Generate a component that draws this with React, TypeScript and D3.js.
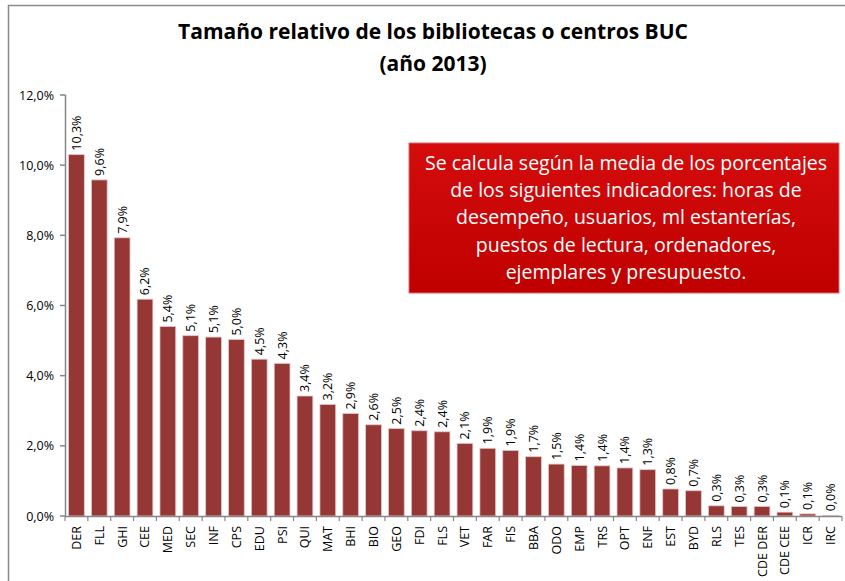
import React from "react";
import * as d3 from "d3";

const categories = ["DER","FLL","GHI","CEE","MED","SEC","INF","CPS","EDU","PSI","QUI","MAT","BHI","BIO","GEO","FDI","FLS","VET","FAR","FIS","BBA","ODO","EMP","TRS","OPT","ENF","EST","BYD","RLS","TES","CDE DER","CDE CEE","ICR","IRC"];
const values = [10.3,9.58,7.93,6.18,5.40,5.14,5.10,5.03,4.47,4.35,3.42,3.18,2.92,2.60,2.49,2.43,2.40,2.07,1.93,1.87,1.69,1.48,1.44,1.43,1.37,1.32,0.77,0.72,0.29,0.27,0.27,0.11,0.06,0.02];
const yTicks = [0,2,4,6,8,10,12];
const titleLines = ["Tamaño relativo de los bibliotecas o centros BUC","(año 2013)"];
const noteLines = ["Se calcula según la media de los porcentajes","de los siguientes indicadores: horas de","desempeño, usuarios, ml estanterías,","puestos de lectura, ordenadores,","ejemplares y presupuesto."];

const W = 845, H = 581;
const FONT = "'Open Sans', sans-serif";
const fmt = (v: number) => v.toFixed(1).replace(".", ",") + "%";

export default function App() {
  const x = d3.scaleBand<string>().domain(categories).range([65, 842]).paddingInner(0.31).paddingOuter(0.155);
  const y = d3.scaleLinear().domain([0, 12]).range([516, 95]);
  const bandStep = x.step();
  return (
    <svg width={W} height={H} style={{ position: "absolute", left: 0, top: 0, fontFamily: FONT }}>
      <defs>
        <linearGradient id="boxg" x1="0" y1="0" x2="0" y2="1">
          <stop offset="0" stopColor="#d40c0c" />
          <stop offset="1" stopColor="#c00000" />
        </linearGradient>
      </defs>
      <rect x={0} y={0} width={W} height={H} fill="#fff" />
      <path d={`M8.5,${H + 2} V5.5 H${W + 2}`} fill="none" stroke="#8a8a8a" strokeWidth={1.5} />
      {titleLines.map((t, i) => (
        <text key={i} x={433} y={39 + i * 32} textAnchor="middle" fontSize={21} fontWeight={700} fill="#000">{t}</text>
      ))}
      {/* y axis */}
      <line x1={65.5} x2={65.5} y1={y(12)} y2={y(0)} stroke="#868686" strokeWidth={1.5} />
      {yTicks.map((t) => (
        <g key={t}>
          <line x1={60} x2={65.5} y1={y(t)} y2={y(t)} stroke="#868686" strokeWidth={1.5} />
          <text x={54} y={y(t) + 4.5} textAnchor="end" fontSize={12.5} fill="#000">{fmt(t)}</text>
        </g>
      ))}
      {/* bars */}
      {categories.map((c, i) => (
        <rect key={c} x={x(c)} y={y(values[i])} width={x.bandwidth()} height={y(0) - y(values[i])} fill="#953735" stroke="#e7c6c5" strokeWidth={0.8} />
      ))}
      {/* x axis */}
      <line x1={65} x2={842} y1={516.5} y2={516.5} stroke="#868686" strokeWidth={1.5} />
      {d3.range(categories.length + 1).map((i) => (
        <line key={i} x1={65 + i * bandStep} x2={65 + i * bandStep} y1={516.5} y2={521} stroke="#868686" strokeWidth={1.2} />
      ))}
      {categories.map((c) => {
        const cx = (x(c) as number) + x.bandwidth() / 2;
        return (
          <text key={c} transform={`translate(${cx + 4.5},${526}) rotate(-90)`} textAnchor="end" fontSize={12.5} fill="#000">{c}</text>
        );
      })}
      {categories.map((c, i) => {
        const cx = (x(c) as number) + x.bandwidth() / 2;
        return (
          <text key={c} transform={`translate(${cx + 4.5},${y(values[i]) - 4}) rotate(-90)`} textAnchor="start" fontSize={12.5} fill="#000">{fmt(values[i])}</text>
        );
      })}
      {/* note box */}
      <rect x={409} y={143} width={430} height={150} fill="url(#boxg)" stroke="#d86a6a" strokeWidth={1} />
      {noteLines.map((t, i) => (
        <text key={i} x={626} y={170 + i * 27.2} textAnchor="middle" fontSize={19.5} fill="#fff">{t}</text>
      ))}
    </svg>
  );
}
